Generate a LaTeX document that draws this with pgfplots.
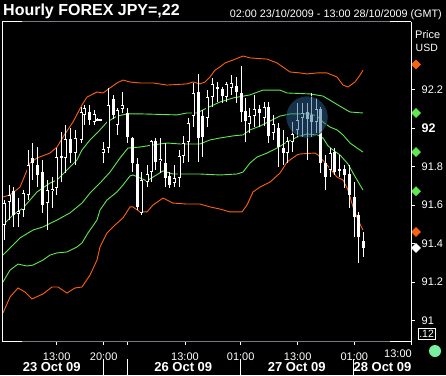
\documentclass[border=0pt]{standalone}
\usepackage{fontspec}
\setmainfont{Liberation Sans}
\usepackage{pgfplots}
\pgfplotsset{compat=1.18}
\usepackage{pgfplotstable}
\definecolor{bOrange}{RGB}{255,96,16}
\definecolor{bGreen}{RGB}{96,232,80}
\definecolor{hl}{RGB}{45,100,150}
\definecolor{frameGray}{RGB}{120,120,135}
\definecolor{mint}{RGB}{120,240,160}

% up (hollow) candles: x o h l c
\pgfplotstableread{
x o h l c
4 91.496 91.626 91.418 91.610
9 91.616 91.704 91.522 91.652
18 91.553 91.636 91.486 91.569
23 91.574 91.678 91.538 91.662
28 91.652 91.886 91.626 91.808
47 91.610 91.730 91.470 91.678
52 91.673 91.745 91.584 91.683
56 91.688 91.896 91.652 91.849
65 91.844 92.016 91.766 91.943
75 91.870 91.990 91.808 91.948
81 91.938 92.109 91.922 92.083
84 92.068 92.120 92.016 92.104
94 92.031 92.094 92.016 92.073
103 91.870 91.927 91.818 91.891
108 91.896 92.208 91.870 92.120
117 92.016 92.104 91.964 92.094
122 92.099 92.187 92.078 92.120
141 91.559 91.771 91.548 91.730
147 91.719 91.808 91.693 91.761
151 91.771 91.938 91.719 91.933
160 91.829 91.948 91.766 91.839
174 91.714 91.808 91.693 91.740
179 91.740 91.886 91.693 91.855
183 91.855 91.959 91.818 91.922
188 91.927 92.052 91.823 92.026
193 92.062 92.234 92.005 92.182
207 92.052 92.197 92.005 92.161
212 92.161 92.260 92.109 92.229
226 92.161 92.239 92.135 92.229
231 92.208 92.275 92.172 92.234
249 92.021 92.104 91.974 92.062
254 92.062 92.172 92.005 92.099
264 92.052 92.135 92.010 92.109
273 91.974 92.068 91.938 92.021
287 91.870 91.953 91.818 91.933
292 91.927 92.031 91.875 91.969
297 91.990 92.130 91.953 92.042
302 92.052 92.130 91.953 92.078
316 92.031 92.156 91.974 92.099
330 91.782 91.896 91.745 91.870
}\upC

% down (filled) candles: x o h l c
\pgfplotstableread{
x o h l c
13 91.673 91.693 91.486 91.548
32 91.844 91.922 91.730 91.818
37 91.808 91.901 91.693 91.756
42 91.771 91.834 91.559 91.600
61 91.855 91.979 91.719 91.844
70 91.943 92.000 91.818 91.870
89 92.083 92.120 92.016 92.042
97 92.047 92.052 92.034 92.036
100 92.047 92.049 92.034 92.036
113 92.151 92.172 92.047 92.068
127 92.078 92.104 91.922 91.953
132 91.948 91.953 91.771 91.818
137 91.813 91.844 91.574 91.590
155 91.933 91.948 91.782 91.823
165 91.818 91.922 91.693 91.740
169 91.751 91.771 91.688 91.704
198 92.187 92.281 91.823 91.948
202 92.062 92.094 91.849 91.953
217 92.213 92.239 92.135 92.203
222 92.203 92.213 92.130 92.166
236 92.218 92.265 92.130 92.187
241 92.182 92.322 92.031 92.083
245 92.088 92.156 91.927 92.036
259 92.099 92.120 92.005 92.078
268 92.109 92.135 91.922 91.959
278 92.000 92.026 91.797 91.901
283 91.896 91.990 91.808 91.870
307 92.083 92.130 91.834 92.047
311 92.068 92.182 91.953 92.031
320 92.099 92.109 91.766 91.818
325 91.818 91.860 91.678 91.745
334 91.875 91.896 91.756 91.771
339 91.787 91.860 91.745 91.777
344 91.787 91.808 91.688 91.756
349 91.761 91.808 91.584 91.652
354 91.642 91.719 91.434 91.538
358 91.548 91.564 91.299 91.434
363 91.413 91.460 91.330 91.377
}\dnC

\begin{document}
\begin{tikzpicture}
\path[use as bounding box, fill=black] (0pt,0pt) rectangle (446pt,-375pt);
\begin{axis}[
  at={(3pt,-341pt)}, anchor=south west,
  scale only axis, width=408pt, height=319pt,
  xmin=3, xmax=411, ymin=90.8935, ymax=92.5506,
  clip=false,
  axis line style={draw=none},
  tick style={draw=white, line width=0.6pt},
  tick align=outside, major tick length=3.5pt,
  xtick pos=bottom, ytick pos=right, yticklabel pos=right,
  xtick={56.7,103.7,127.7,185,240.7,297.7,354.3,411},
  xticklabels={13:00,20:00,,13:00,01:00,13:00,01:00,},
  extra x ticks={398},
  extra x tick labels={13:00},
  extra x tick style={major tick length=0pt},
  ytick={91,91.2,91.4,91.6,91.8,92,92.2},
  yticklabels={91,91.2,91.4,91.6,91.8,{\fontsize{12.5}{14}\selectfont\bfseries 92},92.2},
  /pgf/number format/assume math mode=true,
  ticklabel style={text=white, font=\fontsize{11}{13}\selectfont},
  xticklabel style={anchor=base, inner sep=0pt, yshift=-16pt},
  yticklabel style={anchor=west, inner sep=0pt, xshift=7pt},
]
% Bollinger bands
\addplot[bOrange, line width=0.9pt, mark=none] coordinates {
(3,91.642) (10,91.652) (20,91.693) (25,91.756) (30,91.818) (37,91.844) (50,91.870) (57,91.901) (63,91.953) (73,92.031) (82,92.120) (87,92.161) (97,92.187) (103,92.182) (110,92.208) (117,92.234) (123,92.249) (130,92.239) (140,92.234) (153,92.234) (167,92.223) (187,92.229) (193,92.239) (200,92.229) (205,92.239) (210,92.265) (215,92.301) (220,92.317) (225,92.338) (233,92.353) (243,92.374) (250,92.364) (267,92.358) (277,92.338) (290,92.291) (300,92.286) (307,92.281) (317,92.286) (327,92.286) (337,92.265) (343,92.223) (348,92.213) (355,92.239) (360,92.275) (363,92.300)};
\addplot[bGreen, line width=0.9pt, mark=none] coordinates {
(3,91.496) (13,91.548) (23,91.584) (30,91.626) (37,91.668) (50,91.714) (57,91.730) (67,91.782) (77,91.834) (82,91.886) (90,91.938) (100,91.990) (107,92.031) (117,92.062) (127,92.073) (143,92.073) (177,92.068) (187,92.078) (197,92.078) (207,92.104) (220,92.135) (233,92.156) (250,92.172) (263,92.197) (280,92.197) (287,92.182) (310,92.177) (323,92.166) (333,92.135) (343,92.104) (350,92.083) (363,92.078)};
\addplot[bGreen, line width=0.9pt, mark=none] coordinates {
(3,91.340) (20,91.429) (33,91.470) (43,91.486) (57,91.522) (70,91.559) (82,91.610) (90,91.662) (100,91.714) (110,91.771) (120,91.844) (128,91.896) (140,91.901) (153,91.912) (167,91.922) (180,91.917) (193,91.917) (200,91.917) (210,91.938) (220,91.948) (233,91.959) (243,91.964) (250,91.990) (260,92.010) (270,92.036) (280,92.062) (290,92.073) (310,92.073) (317,92.062) (323,92.031) (330,92.005) (337,91.990) (343,91.964) (350,91.922) (357,91.896) (363,91.875)};
\addplot[bGreen, line width=0.9pt, mark=none] coordinates {
(3,91.200) (10,91.262) (18,91.293) (27,91.283) (33,91.288) (43,91.314) (50,91.340) (57,91.351) (67,91.356) (77,91.382) (82,91.403) (88,91.455) (97,91.522) (100,91.574) (107,91.626) (117,91.668) (123,91.704) (130,91.751) (133,91.756) (147,91.725) (153,91.745) (163,91.777) (173,91.761) (187,91.761) (200,91.761) (220,91.756) (237,91.761) (243,91.771) (250,91.818) (257,91.849) (267,91.870) (277,91.896) (287,91.927) (297,91.953) (307,91.969) (317,91.964) (323,91.948) (328,91.907) (333,91.886) (340,91.860) (348,91.813) (353,91.766) (360,91.704) (363,91.678)};
\addplot[bOrange, line width=0.9pt, mark=none] coordinates {
(3,91.039) (10,91.122) (18,91.169) (25,91.148) (32,91.112) (43,91.138) (52,91.174) (58,91.174) (67,91.143) (75,91.169) (82,91.174) (90,91.236) (97,91.314) (100,91.382) (107,91.455) (115,91.496) (123,91.533) (130,91.590) (133,91.590) (140,91.564) (147,91.564) (153,91.600) (163,91.636) (173,91.610) (187,91.605) (200,91.605) (210,91.590) (220,91.579) (230,91.564) (242,91.564) (247,91.600) (253,91.668) (260,91.693) (270,91.719) (280,91.766) (287,91.823) (297,91.860) (300,91.865) (315,91.870) (318,91.860) (327,91.808) (337,91.745) (343,91.730) (348,91.678) (353,91.590) (358,91.522) (363,91.470)};
% wicks
\addplot[draw=none, mark=none, forget plot, error bars/.cd, y dir=plus, y explicit, error mark=none,
  error bar style={draw=white, line width=0.8pt}]
  table[x=x, y=l, y error plus expr=\thisrow{h}-\thisrow{l}] {\upC};
\addplot[draw=none, mark=none, forget plot, error bars/.cd, y dir=plus, y explicit, error mark=none,
  error bar style={draw=white, line width=0.8pt}]
  table[x=x, y=l, y error plus expr=\thisrow{h}-\thisrow{l}] {\dnC};
% filled bodies
\addplot[draw=none, mark=none, forget plot, error bars/.cd, y dir=plus, y explicit, error mark=none,
  error bar style={draw=white, line width=3pt}]
  table[x=x, y=c, y error plus expr=\thisrow{o}-\thisrow{c}] {\dnC};
% hollow bodies
\addplot[draw=none, mark=none, forget plot, error bars/.cd, y dir=plus, y explicit, error mark=none,
  error bar style={draw=white, line width=3pt}]
  table[x=x, y=o, y error plus expr=\thisrow{c}-\thisrow{o}] {\upC};
\addplot[draw=none, mark=none, forget plot, error bars/.cd, y dir=plus, y explicit, error mark=none,
  error bar style={draw=black, line width=1.1pt}]
  table[x=x, y expr=\thisrow{o}+0.0052, y error plus expr=\thisrow{c}-\thisrow{o}-0.0104] {\upC};
% highlight
\addplot[only marks, mark=*, mark size=21pt, mark options={fill=hl, draw=none, fill opacity=0.5}] coordinates {(307,92.057)};
% last-value markers
\addplot[only marks, mark=square*, mark size=3.2pt, mark options={fill=bOrange, draw=bOrange, line width=0.5pt, rotate=45}] coordinates {(416,92.33) (416,91.46)};
\addplot[only marks, mark=square*, mark size=3.2pt, mark options={fill=bGreen, draw=bGreen, line width=0.5pt, rotate=45}] coordinates {(416,92.078) (416,91.875) (416,91.672)};
\addplot[only marks, mark=square*, mark size=3.2pt, mark options={fill=white, draw=white, line width=0.5pt, rotate=45}] coordinates {(416,91.377)};
\end{axis}
% frame
\draw[white, line width=0.8pt] (2.5pt,-21.7pt) -- (2.5pt,-341pt);
\draw[white, line width=0.8pt] (411pt,-21.7pt) -- (411pt,-344pt);
\draw[frameGray, line width=0.8pt] (2.5pt,-21.7pt) -- (411pt,-21.7pt);
\draw[frameGray, line width=0.8pt] (2.5pt,-341pt) -- (411pt,-341pt);
\draw[white, line width=0.8pt] (2.1pt,-21.7pt) -- (22pt,-21.7pt) (390pt,-21.7pt) -- (411.4pt,-21.7pt);
\draw[white, line width=0.8pt] (2.1pt,-341pt) -- (22pt,-341pt) (390pt,-341pt) -- (411.4pt,-341pt);
% date row
\foreach \xx in {103.7,127.7,240.7,353.5} \draw[white, line width=0.8pt] (\xx pt,-359pt) -- (\xx pt,-375pt);
\begin{scope}[every node/.style={text=white, inner sep=0pt, anchor=base, font=\fontsize{13}{15}\selectfont\bfseries}]
\node at (51.7pt,-371.7pt) {23 Oct 09};
\node at (183.3pt,-371.7pt) {26 Oct 09};
\node at (296.7pt,-371.7pt) {27 Oct 09};
\node at (382.5pt,-371.7pt) {28 Oct 09};
\end{scope}
% titles
\node[anchor=base west, inner sep=0pt, text=white, font=\fontsize{16}{18}\selectfont\bfseries] at (3pt,-15.5pt) {Hourly FOREX JPY=,22};
\node[anchor=base east, inner sep=0pt, text=white, font=\fontsize{10.8}{12}\selectfont] at (442pt,-17.5pt) {02:00 23/10/2009 - 13:00 28/10/2009 (GMT)};
\node[anchor=base west, inner sep=0pt, text=white, font=\fontsize{11}{13}\selectfont] at (415pt,-38pt) {Price};
\node[anchor=base west, inner sep=0pt, text=white, font=\fontsize{10.5}{12}\selectfont] at (415.5pt,-51pt) {USD};
\draw[white, line width=0.7pt] (418.3pt,-328.3pt) rectangle (435pt,-339.3pt);
\node[anchor=base, inner sep=0pt, text=white, font=\fontsize{10.5}{12}\selectfont] at (426.6pt,-337.5pt) {.12};
\fill[mint] (435pt,-351pt) circle (6pt);
\end{tikzpicture}
\end{document}
